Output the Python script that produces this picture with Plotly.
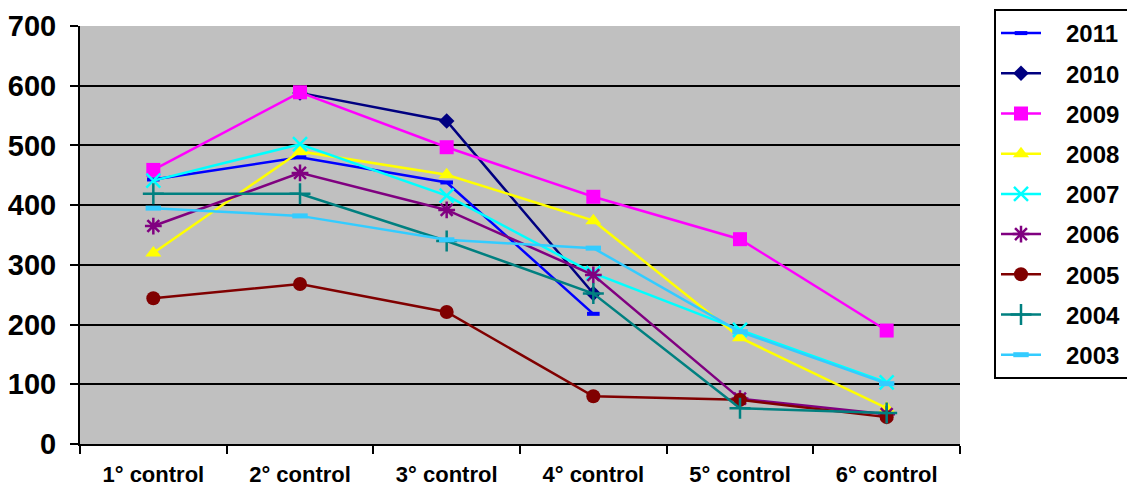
import plotly.graph_objects as go

categories = ["1° control", "2° control", "3° control", "4° control", "5° control", "6° control"]
years = ["2011", "2010", "2009", "2008", "2007", "2006", "2005", "2004", "2003"]

v2011 = [443, 480, 438, 218, None, None]
v2010 = [None, 588, 541, 252, None, None]
v2009 = [459, 589, 497, 414, 343, 190]
v2008 = [320, 490, 451, 374, 178, 60]
v2007 = [441, 502, 416, 286, 191, 103]
v2006 = [365, 454, 392, 283, 76, 50]
v2005 = [244, 268, 221, 80, 74, 45]
v2004 = [419, 419, 340, 252, 60, 52]
v2003 = [395, 382, 342, 328, 188, 101]

series = [v2011, v2010, v2009, v2008, v2007, v2006, v2005, v2004, v2003]
colors = ["#0000FF", "#000080", "#FF00FF", "#FFFF00", "#00FFFF", "#800080", "#800000", "#008080", "#33CCFF"]
symbols = ["line-ew", "diamond", "square", "triangle-up", "x-thin-open", "asterisk-open", "circle", "cross-thin-open", "line-ew"]
sizes = [9, 12, 14, 14, 14, 14, 14, 15, 11]
mline = [4, 0, 0, 0, 2.5, 2.5, 0, 2.5, 5]

NB = "\u00a0"
fig = go.Figure()
for name, vals, c, s, sz, ml in zip(years, series, colors, symbols, sizes, mline):
    fig.add_trace(go.Scatter(
        x=categories, y=vals, name=NB * 3 + name + NB * 2, mode="lines+markers",
        line=dict(color=c, width=2.5),
        marker=dict(symbol=s, size=sz, color=c, line=dict(color=c, width=ml)),
        legendgroup=name,
        connectgaps=False,
    ))

W, H = 1127, 479
font_family = "Liberation Sans, Arial, sans-serif"
fig.update_layout(
    width=W, height=H,
    margin=dict(l=72, r=175, t=18, b=43, autoexpand=False),
    paper_bgcolor="white",
    plot_bgcolor="#C0C0C0",
    font=dict(family=font_family, color="black"),
    showlegend=True,
    legend=dict(
        xref="container", yref="container",
        x=986 / W, y=1 - 1 / H, xanchor="left", yanchor="top",
        bordercolor="black", borderwidth=2, bgcolor="white",
        font=dict(size=24, family=font_family, weight="bold"),
        tracegroupgap=6,
        itemwidth=40,
        maxheight=470,
    ),
    xaxis=dict(
        type="category",
        automargin=False,
        showgrid=False,
        showline=True, linecolor="black", linewidth=2,
        ticks="outside", tickson="boundaries", ticklen=8, tickwidth=2, tickcolor="black",
        tickfont=dict(size=22, family=font_family, weight="bold"),
        ticklabelstandoff=10,
        range=[-0.5, 5.5],
    ),
    yaxis=dict(
        automargin=False,
        range=[0, 700], dtick=100,
        showgrid=True, gridcolor="black", gridwidth=2,
        showline=True, linecolor="black", linewidth=2,
        ticks="outside", ticklen=8, tickwidth=2, tickcolor="black",
        tickfont=dict(size=29, family=font_family, weight="bold"),
        ticklabelstandoff=8,
        zeroline=False,
    ),
)

fig.write_html("out.html")
